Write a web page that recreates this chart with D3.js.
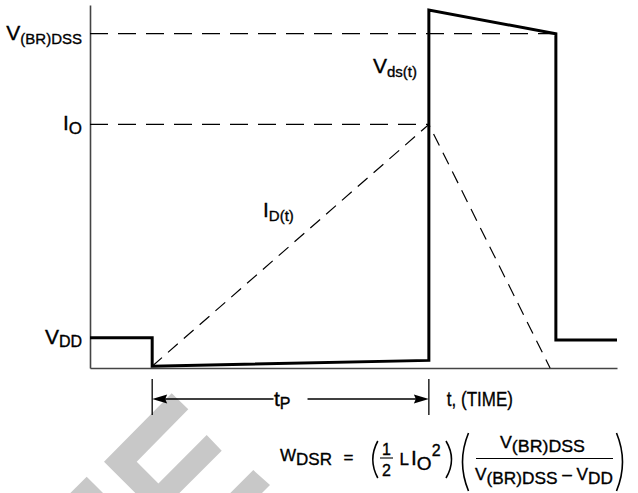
<!DOCTYPE html>
<html>
  <head>
    <meta charset="UTF-8">
    <title>Unclamped inductive switching waveforms</title>
    <script src="https://d3js.org/d3.v7.min.js"></script>
    <style>
      body { margin: 0; background: #fff; }
      text { font-family: "Liberation Sans", Arial, Helvetica, sans-serif; fill: #000; stroke: #000; stroke-width: 0.35px; }
    </style>
  </head>
  <body>
    <div id="chart-container"></div>
  <script type="text/javascript">

    // Drain-source voltage waveform (time in arbitrary units, level in % of full scale)
    const vdsTime  = [0, 1.18, 1.18, 6.43, 6.43, 8.84, 8.84, 10];
    const vdsLevel = [8.3, 8.3, 0.5, 2.1, 98.6, 92.1, 7.7, 7.7];

    // Drain current waveform
    const idTime  = [1.18, 6.43, 8.73];
    const idLevel = [0.5, 67.1, 0];

    // Reference levels marked on the vertical axis
    const refNames = ["V(BR)DSS", "IO", "VDD"];
    const refLevel = [92.1, 67.1, 8.3];
    const refUntil = [8.84, 6.43, 0];   // dashed guide runs to this time

    // Pulse width tP
    const pulseTime = [1.18, 6.43];

    // Chart area
    const width = 638;
    const height = 493;
    const margin = ({top: 5, right: 21, bottom: 125, left: 90});

    const x = d3.scaleLinear()
        .domain([0, 10])
        .range([margin.left, width - margin.right]);

    const y = d3.scaleLinear()
        .domain([0, 100])
        .range([height - margin.bottom, margin.top]);

    const svg = d3.select("#chart-container")
        .append("svg")
        .attr("width", width)
        .attr("height", height)
        .attr("viewBox", `0 0 ${width} ${height}`);

    // text with subscripts / superscripts
    function richText(g, px, py, parts, anchor) {
        const t = g.append("text")
            .attr("x", px)
            .attr("y", py)
            .attr("text-anchor", anchor || "start");
        let prev = 0;
        parts.forEach(p => {
            const dy = p.dy || 0;
            t.append("tspan")
                .attr("font-size", p.size)
                .attr("dy", dy - prev)
                .text(p.text);
            prev = dy;
        });
        return t;
    }

    // Watermark (light grey, drawn underneath everything)
    const wm = svg.append("g").attr("fill", "#c8c8c8");
    [
        [[171.7,393.3],[188.3,409.3],[136.7,461.7],[158.4,483.4],[206.7,435],[221.7,450.7],[157.4,515],[104,461.7]],
        [[253.3,470],[270,485],[250,505],[218.3,505]],
        [[86.7,476.7],[115,505],[58.4,505]]
    ].forEach(pts => wm.append("path").attr("d", "M" + pts.join("L") + "Z"));

    // Axes (domain lines only)
    const xAxis = g => g
        .attr("transform", `translate(0,${y(0)})`)
        .call(d3.axisBottom(x).ticks(0).tickSize(0).tickSizeOuter(0))
        .call(g => g.selectAll("text").remove());

    const yAxis = g => g
        .attr("transform", `translate(${x(0)},0)`)
        .call(d3.axisLeft(y).ticks(0).tickSize(0).tickSizeOuter(0))
        .call(g => g.selectAll("text").remove());

    for (const axis of [xAxis, yAxis]) {
        svg.append("g").call(axis)
            .call(g => g.select(".domain").attr("stroke", "#444").attr("stroke-width", 1.6));
    }

    // Dashed guides for V(BR)DSS and IO
    refNames.forEach((n, i) => {
        if (refUntil[i] <= 0) return;
        svg.append("line")
            .attr("x1", x(0)).attr("x2", x(refUntil[i]))
            .attr("y1", y(refLevel[i])).attr("y2", y(refLevel[i]))
            .attr("stroke", "#000")
            .attr("stroke-width", 1.2)
            .attr("stroke-dasharray", "18,10");
    });

    // Level labels
    const lab = svg.append("g");
    richText(lab, 82, y(refLevel[0]) + 6, [{text: "V", size: 21}, {text: "(BR)DSS", size: 15, dy: 4}], "end");
    richText(lab, 82, y(refLevel[1]) + 6, [{text: "I", size: 21}, {text: "O", size: 17, dy: 4}], "end");
    richText(lab, 82, y(refLevel[2]) + 6, [{text: "V", size: 21}, {text: "DD", size: 16, dy: 3}], "end");

    // Waveforms
    const vdsData = vdsTime.map((t, i) => [t, vdsLevel[i]]);
    const idData = idTime.map((t, i) => [t, idLevel[i]]);

    const line = d3.line()
        .x(d => x(d[0]))
        .y(d => y(d[1]));

    svg.append("path")
        .attr("d", line(idData))
        .attr("fill", "none")
        .attr("stroke", "#000")
        .attr("stroke-width", 1.2)
        .attr("stroke-dasharray", "13,8");

    svg.append("path")
        .attr("d", line(vdsData))
        .attr("fill", "none")
        .attr("stroke", "#000")
        .attr("stroke-width", 3)
        .attr("stroke-linejoin", "miter");

    richText(svg, 373, 73, [{text: "V", size: 21}, {text: "ds(t)", size: 15, dy: 4}]);
    richText(svg, 263, 217, [{text: "I", size: 21}, {text: "D(t)", size: 15, dy: 4}]);

    // Pulse width dimension
    const dimY = 399;
    const x1 = x(pulseTime[0]), x2 = x(pulseTime[1]);
    const mid = (x1 + x2) / 2;
    const dim = svg.append("g").attr("stroke", "#000").attr("stroke-width", 1.3);
    [x1, x2].forEach(px => dim.append("line")
        .attr("x1", px).attr("x2", px).attr("y1", dimY - 20).attr("y2", dimY + 16));
    dim.append("line").attr("x1", x1 + 8).attr("x2", mid - 17).attr("y1", dimY).attr("y2", dimY);
    dim.append("line").attr("x1", mid + 17).attr("x2", x2 - 8).attr("y1", dimY).attr("y2", dimY);
    svg.append("path")
        .attr("d", `M${x1},${dimY}L${x1 + 15},${dimY - 4.5}L${x1 + 13},${dimY}L${x1 + 15},${dimY + 4.5}Z`)
        .attr("fill", "#000");
    svg.append("path")
        .attr("d", `M${x2},${dimY}L${x2 - 15},${dimY - 4.5}L${x2 - 13},${dimY}L${x2 - 15},${dimY + 4.5}Z`)
        .attr("fill", "#000");

    richText(svg, mid - 16.5, 406, [{text: "t", size: 21}, {text: "P", size: 16, dy: 3}]);
    richText(svg, x2 + 18, 406, [{text: "t, (TIME)", size: 21}])
        .attr("textLength", 66).attr("lengthAdjust", "spacingAndGlyphs");

    // Energy formula
    const f = svg.append("g");
    richText(f, 280, 461, [{text: "W", size: 17}, {text: "DSR", size: 17, dy: 4}]);
    f.append("text").attr("x", 348.5).attr("y", 463).attr("font-size", 17)
        .attr("text-anchor", "middle").text("=");

    const paren = (xe, xm, y0, y1) => {
        const p = d3.path();
        p.moveTo(xe, y0);
        p.quadraticCurveTo(2 * xm - xe, (y0 + y1) / 2, xe, y1);
        f.append("path").attr("d", p.toString())
            .attr("fill", "none").attr("stroke", "#000").attr("stroke-width", 1.6);
    };
    paren(377.8, 372.8, 441, 478);
    paren(446, 451.5, 441, 478);
    paren(468.5, 462.5, 433, 491);
    paren(616.5, 622.5, 433, 491);

    f.append("text").attr("x", 386.5).attr("y", 455).attr("font-size", 16)
        .attr("text-anchor", "middle").text("1");
    f.append("line").attr("x1", 380).attr("x2", 393).attr("y1", 458).attr("y2", 458)
        .attr("stroke", "#000").attr("stroke-width", 1.1);
    f.append("text").attr("x", 386.5).attr("y", 476).attr("font-size", 16)
        .attr("text-anchor", "middle").text("2");

    f.append("text").attr("x", 399.5).attr("y", 465).attr("font-size", 17).text("L");
    richText(f, 411, 465, [{text: "I", size: 21}, {text: "O", size: 19, dy: 5}, {text: "2", size: 16, dy: -9}]);

    richText(f, 500, 448, [{text: "V", size: 17}, {text: "(BR)DSS", size: 17, dy: 3.5}])
        .attr("textLength", 85).attr("lengthAdjust", "spacingAndGlyphs");
    f.append("line").attr("x1", 476).attr("x2", 613).attr("y1", 458.5).attr("y2", 458.5)
        .attr("stroke", "#000").attr("stroke-width", 1.2);
    richText(f, 475, 480, [
        {text: "V", size: 17}, {text: "(BR)DSS", size: 17, dy: 3.5},
        {text: " \u2013 ", size: 17}, {text: "V", size: 17}, {text: "DD", size: 17, dy: 3.5}])
        .attr("textLength", 138).attr("lengthAdjust", "spacingAndGlyphs");

  </script>
  </body>
</html>
